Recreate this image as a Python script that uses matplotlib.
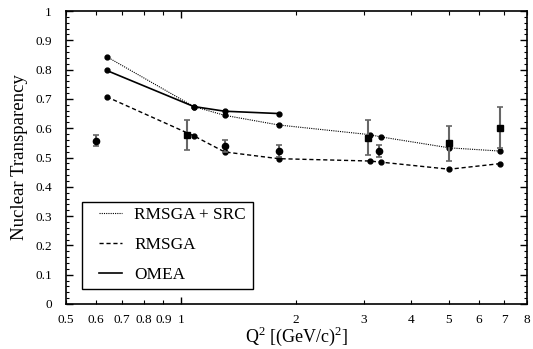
import matplotlib
matplotlib.use("Agg")
import matplotlib.pyplot as plt
from matplotlib.patches import Rectangle
from matplotlib.ticker import FixedLocator, FixedFormatter

plt.rcParams['font.family'] = ['Liberation Serif', 'DejaVu Serif']
plt.rcParams['mathtext.fontset'] = 'custom'
plt.rcParams['mathtext.rm'] = 'Liberation Serif'

# Model calculations
q2_model = [0.64, 1.08, 1.30, 1.80, 3.11, 3.34, 5.02, 6.81]
t_rmsga_src = [0.844, 0.674, 0.644, 0.611, 0.578, 0.570, 0.533, 0.522]
t_rmsga = [0.707, 0.574, 0.519, 0.496, 0.488, 0.484, 0.460, 0.479]
q2_omea = [0.64, 1.08, 1.30, 1.80]
t_omea = [0.797, 0.674, 0.658, 0.650]

# Data: circles
q2_circ = [0.60, 1.30, 1.80, 3.30]
t_circ = [0.558, 0.540, 0.522, 0.522]
e_circ = [0.020, 0.020, 0.021, 0.021]
# Data: squares
q2_sq = [1.04, 3.08, 5.00, 6.80]
t_sq = [0.577, 0.567, 0.548, 0.602]
e_sq = [0.050, 0.060, 0.060, 0.070]

xtick_vals = [0.5, 0.6, 0.7, 0.8, 0.9, 2, 3, 4, 5, 6, 7, 8]
xtick_labels = ['0.5', '0.6', '0.7', '0.8', '0.9', '2', '3', '4', '5', '6', '7', '8']
ytick_vals = [0, 0.1, 0.2, 0.3, 0.4, 0.5, 0.6, 0.7, 0.8, 0.9, 1]
ytick_labels = ['0', '0.1', '0.2', '0.3', '0.4', '0.5', '0.6', '0.7', '0.8', '0.9', '1']

fig = plt.figure(figsize=(5.33, 3.49), dpi=100)
ax = fig.add_axes([65.7/533, 1-304/349, 461/533, 293/349])

ax.plot(q2_model, t_rmsga_src, linestyle=(0, (1, 1)), color='black', lw=0.8,
        marker='o', ms=3.5, label='RMSGA + SRC')
ax.plot(q2_model, t_rmsga, linestyle=(0, (3, 2)), color='black', lw=1.0,
        marker='o', ms=3.5, label='RMSGA')
ax.plot(q2_omea, t_omea, linestyle='-', color='black', lw=1.2,
        marker='o', ms=3.5, label='OMEA')

ax.errorbar(q2_circ, t_circ, yerr=e_circ, fmt='o', color='black', ms=4.5,
            ecolor='#666666', elinewidth=1.5, capsize=2.5, capthick=1.2)
ax.errorbar(q2_sq, t_sq, yerr=e_sq, fmt='s', color='black', ms=4.5,
            ecolor='#666666', elinewidth=1.5, capsize=2.5, capthick=1.2)

ax.set_xscale('log')
ax.set_xlim(0.5, 8)
ax.set_ylim(0, 1)

ax.xaxis.set_major_locator(FixedLocator([1]))
ax.xaxis.set_major_formatter(FixedFormatter(['1']))
ax.xaxis.set_minor_locator(FixedLocator(xtick_vals))
ax.xaxis.set_minor_formatter(FixedFormatter(xtick_labels))
ax.yaxis.set_major_locator(FixedLocator(ytick_vals))
ax.yaxis.set_major_formatter(FixedFormatter(ytick_labels))
ax.yaxis.set_minor_locator(FixedLocator([i * 0.02 for i in range(51)]))

ax.tick_params(which='both', direction='in', top=True, right=True, labelsize=9.5)
ax.tick_params(axis='y', which='major', length=5, width=1, pad=10)
ax.tick_params(axis='y', which='minor', length=2.5, width=0.8)
ax.tick_params(axis='x', which='major', length=5, width=1, pad=7)
ax.tick_params(axis='x', which='minor', length=3, width=0.8, pad=7)
for s in ax.spines.values():
    s.set_linewidth(1.2)

ax.set_ylabel('Nuclear Transparency', fontsize=13.5, labelpad=5)
ax.set_xlabel('Q$^{\\mathrm{2}}$ [(GeV/c)$^{\\mathrm{2}}$]', fontsize=13, labelpad=-1)

# Legend frame drawn separately for exact placement
ax.add_patch(Rectangle(((81.7-65.7)/461, (304-289.3)/293), (253-81.7)/461, 87.8/293,
                       transform=ax.transAxes, fill=True, facecolor='white',
                       edgecolor='black', lw=1.0, zorder=5))
leg = ax.legend(loc='upper left', bbox_to_anchor=((99-65.7)/461, (304-207.0)/293),
                fontsize=12.4, frameon=False, handlelength=1.35, handletextpad=0.7,
                borderpad=0, labelspacing=0.8, borderaxespad=0)
leg.set_zorder(6)
for h in leg.legend_handles:
    h.set_marker('')

fig.savefig('out.png', dpi=100)
